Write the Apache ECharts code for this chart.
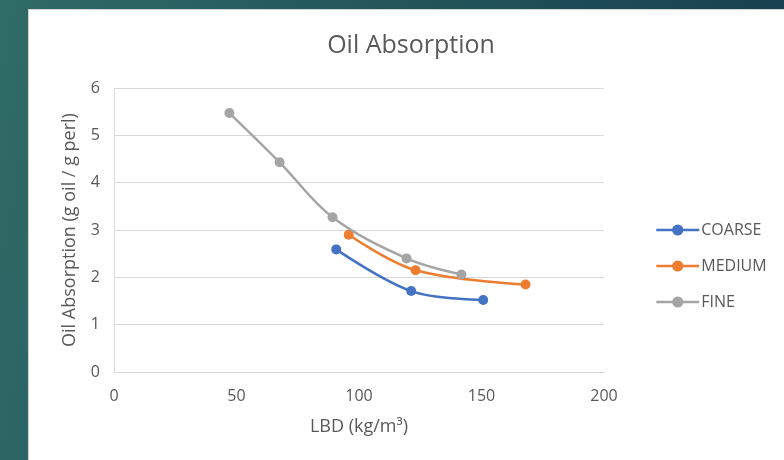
<!DOCTYPE html>
<html>
<head>
<meta charset="utf-8">
<script src="https://cdn.jsdelivr.net/npm/echarts@6/dist/echarts.min.js"></script>
<style>
  html, body { margin: 0; padding: 0; }
  body {
    width: 784px; height: 460px; overflow: hidden;
    background: linear-gradient(100deg, #2f6b67 0%, #22545a 50%, #163c4e 100%);
  }
  #panel {
    position: absolute; left: 28px; top: 9px; width: 756px; height: 451px;
    background: #ffffff; border-left: 1px solid #d4d4d4; border-top: 1px solid #d4d4d4;
    box-sizing: border-box;
  }
  #chart { position: absolute; left: 0; top: 0; width: 784px; height: 460px; }
</style>
</head>
<body>
<div id="panel"></div>
<div id="chart"></div>
<script>
// LBD (kg/m³) vs. oil absorption (g oil / g perl) for three particle grades
const coarseLBD = [90.7, 121.3, 150.7];
const coarseOil = [2.59, 1.71, 1.52];
const mediumLBD = [95.8, 123.1, 168.0];
const mediumOil = [2.90, 2.15, 1.85];
const fineLBD = [47.1, 67.6, 89.2, 119.4, 141.8];
const fineOil = [5.47, 4.43, 3.27, 2.40, 2.06];

const seriesNames = ['COARSE', 'MEDIUM', 'FINE'];
const seriesColors = ['#4472C4', '#ED7D31', '#A5A5A5'];

const pairs = (xs, ys) => xs.map((x, i) => [x, ys[i]]);
const seriesData = [pairs(coarseLBD, coarseOil), pairs(mediumLBD, mediumOil), pairs(fineLBD, fineOil)];

const font = '"Open Sans", "Noto Sans", sans-serif';
const textColor = '#595959';

const chart = echarts.init(document.getElementById('chart'), null, { renderer: 'canvas' });
chart.setOption({
  backgroundColor: 'transparent',
  animation: false,
  title: {
    text: 'Oil Absorption',
    left: 406, top: 28, textAlign: 'center',
    textStyle: { color: textColor, fontFamily: font, fontSize: 25, fontWeight: 'normal' }
  },
  legend: {
    orient: 'vertical',
    left: 650, top: 217,
    itemWidth: 43, itemHeight: 14, itemGap: 20,
    lineStyle: { width: 2.5 },
    textStyle: { color: textColor, fontFamily: font, fontSize: 16, padding: [0, 0, 0, -3] },
    data: seriesNames
  },
  grid: { left: 114, right: 180, top: 88, bottom: 88 },
  xAxis: {
    type: 'value', min: 0, max: 200, interval: 50,
    name: 'LBD (kg/m³)', nameLocation: 'middle', nameGap: 46,
    nameTextStyle: { color: textColor, fontFamily: font, fontSize: 18 },
    axisLine: { show: true, lineStyle: { color: '#d9d9d9', width: 1 } },
    axisTick: { show: false },
    axisLabel: { color: textColor, fontFamily: font, fontSize: 16, margin: 16 },
    splitLine: { show: false }
  },
  yAxis: {
    type: 'value', min: 0, max: 6, interval: 1,
    name: 'Oil Absorption (g oil / g perl)', nameLocation: 'middle', nameGap: 35,
    nameTextStyle: { color: textColor, fontFamily: font, fontSize: 18 },
    axisLine: { show: true, lineStyle: { color: '#d9d9d9', width: 1 } },
    axisTick: { show: false },
    axisLabel: { color: textColor, fontFamily: font, fontSize: 16, margin: 14 },
    splitLine: { show: true, lineStyle: { color: '#d9d9d9', width: 1 } }
  },
  series: seriesNames.map((name, i) => ({
    name,
    type: 'line',
    data: seriesData[i],
    smooth: 0.35,
    symbol: 'circle',
    symbolSize: 10,
    lineStyle: { color: seriesColors[i], width: 2.5 },
    itemStyle: { color: seriesColors[i] },
    z: 2 + i
  }))
});
</script>
</body>
</html>
